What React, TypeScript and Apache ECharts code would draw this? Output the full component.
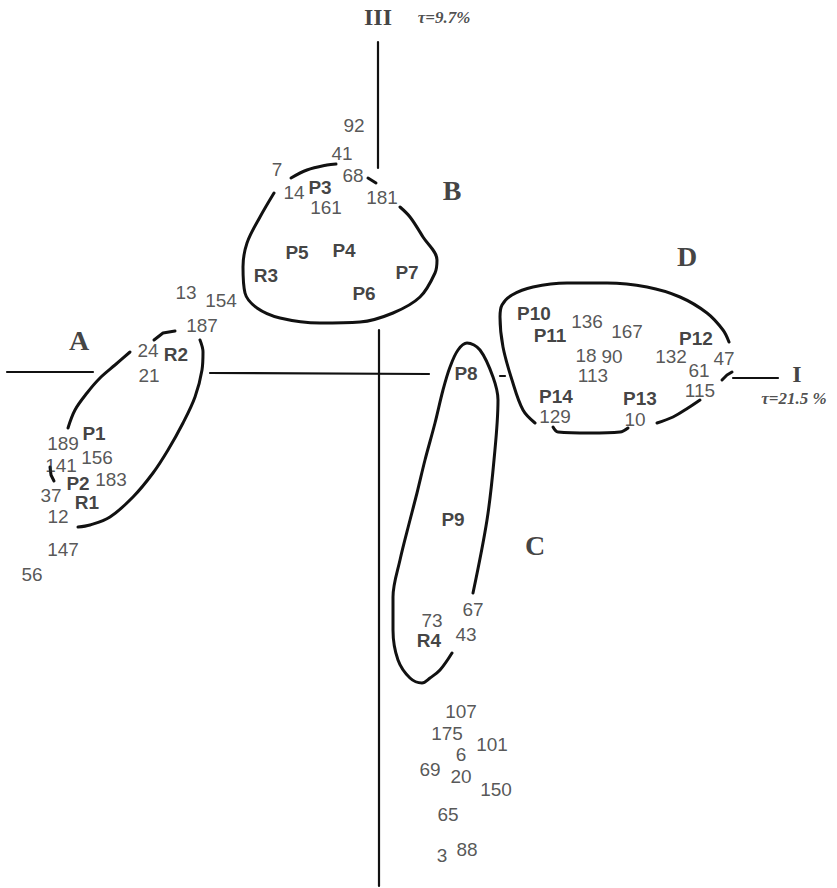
import React, { useEffect, useRef } from "react";
import * as echarts from "echarts";

// Factorial plane: axis I (horizontal) against axis III (vertical).
// Coordinates are factor scores in plot units.

type Pt = [number, number];

// Objects (numbered)
const objectNames: string[] = [
  "92", "41", "7", "68", "14", "181", "161",
  "13", "154", "187", "24", "21",
  "189", "141", "156", "183", "37", "12", "147", "56",
  "136", "167", "18", "90", "132", "47", "61", "113", "115", "129", "10",
  "67", "73", "43",
  "107", "175", "101", "6", "69", "20", "150", "65", "3", "88",
];
const objectX: number[] = [
  -0.24, -0.36, -1.01, -0.25, -0.84, 0.04, -0.52,
  -1.92, -1.57, -1.76, -2.3, -2.29,
  -3.15, -3.17, -2.81, -2.67, -3.27, -3.2, -3.15, -3.46,
  2.09, 2.49, 2.08, 2.34, 2.93, 3.46, 3.21, 2.15, 3.22, 1.77, 2.57,
  0.95, 0.54, 0.88,
  0.83, 0.69, 1.14, 0.83, 0.52, 0.83, 1.18, 0.7, 0.64, 0.89,
];
const objectY: number[] = [
  2.48, 2.2, 2.04, 1.98, 1.81, 1.76, 1.66,
  0.81, 0.73, 0.48, 0.23, -0.02,
  -0.7, -0.92, -0.84, -1.06, -1.22, -1.43, -1.76, -2.01,
  0.52, 0.42, 0.18, 0.17, 0.17, 0.15, 0.03, -0.02, -0.17, -0.43, -0.46,
  -2.36, -2.47, -2.61,
  -3.38, -3.6, -3.71, -3.81, -3.96, -4.03, -4.16, -4.41, -4.82, -4.76,
];

// Variables (P = populations, R = regions)
const variableNames: string[] = [
  "P1", "P2", "R1", "R2", "P3", "P4", "P5", "P6", "P7", "R3",
  "P8", "P9", "R4", "P10", "P11", "P12", "P13", "P14",
];
const variableX: number[] = [
  -2.84, -3.0, -2.91, -2.02, -0.58, -0.34, -0.81, -0.14, 0.29, -1.12,
  0.88, 0.75, 0.51, 1.56, 1.72, 3.18, 2.62, 1.78,
];
const variableY: number[] = [
  -0.6, -1.1, -1.29, 0.19, 1.86, 1.23, 1.21, 0.8, 1.01, 0.98,
  0.0, -1.46, -2.67, 0.6, 0.38, 0.35, -0.25, -0.23,
];

// Group letters
const groupNames: string[] = ["A", "B", "C", "D"];
const groupX: number[] = [-2.99, 0.74, 1.57, 3.09];
const groupY: number[] = [0.33, 1.83, -1.72, 1.17];

// Axis names and inertia
const axisNames: string[] = ["III", "I"];
const axisNameX: number[] = [0.0, 4.19];
const axisNameY: number[] = [3.56, -0.01];
const inertiaNames: string[] = ["τ=9.7%", "τ=21.5 %"];
const inertiaX: number[] = [0.66, 4.16];
const inertiaY: number[] = [3.56, -0.25];

// Axis segments (drawn broken around the groups)
const axisSegments: Pt[][] = [
  [[-3.71, 0.01], [-2.85, 0.01]],
  [[-1.68, 0.0], [0.51, -0.01]],
  [[3.55, -0.05], [4.0, -0.05]],
  [[0.0, 3.31], [0.0, 2.05]],
  [[0.01, 0.43], [0.01, -5.13]],
  [[1.22, -0.03], [1.27, -0.03]],
];

// Group outlines
const groupA: Pt[][] = [
  [[-3.1, -0.55], [-3.03, -0.37], [-2.91, -0.2], [-2.78, -0.05], [-2.63, 0.08], [-2.48, 0.21]],
  [[-2.24, 0.33], [-2.15, 0.4], [-2.03, 0.42]],
  [[-1.78, 0.33], [-1.75, 0.21], [-1.76, 0.03], [-1.83, -0.24], [-1.95, -0.5], [-2.1, -0.77],
   [-2.25, -1.0], [-2.45, -1.24], [-2.68, -1.44], [-2.88, -1.52], [-3.0, -1.54]],
  [[-3.28, -0.94], [-3.27, -1.02], [-3.24, -1.08]],
];
const groupB: Pt[][] = [
  [[-0.87, 1.95], [-0.71, 2.03], [-0.51, 2.08], [-0.42, 2.09]],
  [[-0.1, 1.95], [-0.02, 1.9]],
  [[-1.04, 1.8], [-1.18, 1.56], [-1.31, 1.3], [-1.35, 1.06], [-1.33, 0.8], [-1.21, 0.65],
   [-0.98, 0.55], [-0.58, 0.5], [-0.18, 0.51], [0.15, 0.6], [0.42, 0.76], [0.57, 1.0],
   [0.59, 1.13], [0.45, 1.36], [0.32, 1.56], [0.22, 1.66]],
];
const groupC: Pt[][] = [
  [[0.74, -2.8], [0.62, -2.97], [0.52, -3.05], [0.44, -3.1], [0.32, -3.05], [0.2, -2.87],
   [0.15, -2.57], [0.15, -2.24], [0.22, -1.87], [0.32, -1.47], [0.39, -1.2], [0.47, -0.87],
   [0.57, -0.5], [0.65, -0.17], [0.72, 0.06], [0.8, 0.23], [0.89, 0.3], [1.02, 0.23],
   [1.15, -0.04], [1.2, -0.27], [1.16, -0.87], [1.09, -1.47], [0.95, -2.2]],
];
const groupD: Pt[][] = [
  [[1.57, -0.5], [1.45, -0.37], [1.34, -0.07], [1.25, 0.26], [1.22, 0.56], [1.24, 0.68],
   [1.34, 0.78], [1.55, 0.86], [1.89, 0.9], [2.29, 0.9], [2.69, 0.86], [3.02, 0.76],
   [3.29, 0.6], [3.45, 0.43], [3.51, 0.31]],
  [[3.44, -0.07], [3.49, -0.02], [3.54, 0.01]],
  [[2.79, -0.5], [2.95, -0.44], [3.1, -0.35], [3.22, -0.27]],
  [[1.75, -0.54], [1.8, -0.59], [2.12, -0.6], [2.42, -0.59], [2.5, -0.55]],
];

const SANS = '"Liberation Sans", Arial, sans-serif';
const SERIF = '"Liberation Serif", "Times New Roman", serif';

function textSeries(
  id: string,
  names: string[],
  xs: number[],
  ys: number[],
  label: Record<string, unknown>
) {
  return {
    id,
    type: "scatter",
    symbol: "circle",
    symbolSize: 1,
    itemStyle: { color: "transparent" },
    silent: true,
    data: names.map((n, i) => ({ name: n, value: [xs[i], ys[i]] })),
    label: {
      show: true,
      position: "inside",
      formatter: "{b}",
      textBorderWidth: 0,
      textShadowBlur: 0,
      ...label,
    },
    z: 5,
  };
}

function curveSeries(id: string, arcs: Pt[][], width: number) {
  return arcs.map((pts, i) => ({
    id: `${id}-${i}`,
    type: "line",
    data: pts,
    smooth: pts.length > 3 ? 0.35 : false,
    showSymbol: false,
    symbol: "none",
    silent: true,
    lineStyle: { color: "#111", width, cap: "round", join: "round" },
    z: 3,
  }));
}

export default function App() {
  const ref = useRef<HTMLDivElement>(null);

  useEffect(() => {
    if (!ref.current) return;
    const chart = echarts.init(ref.current, undefined, { renderer: "svg" });

    const option = {
      animation: false,
      backgroundColor: "#ffffff",
      grid: { left: 0, right: 0, top: 0, bottom: 0, containLabel: false },
      xAxis: {
        type: "value",
        min: -3.78,
        max: 4.59,
        show: false,
      },
      yAxis: {
        type: "value",
        min: -5.15,
        max: 3.73,
        show: false,
      },
      series: [
        ...curveSeries("axis", axisSegments, 2.2),
        ...curveSeries("A", groupA, 3),
        ...curveSeries("B", groupB, 3),
        ...curveSeries("C", groupC, 3),
        ...curveSeries("D", groupD, 3),
        textSeries("objects", objectNames, objectX, objectY, {
          fontFamily: SANS,
          fontSize: 19,
          color: "#2b2b2b",
        }),
        textSeries("variables", variableNames, variableX, variableY, {
          fontFamily: SANS,
          fontSize: 19,
          fontWeight: "bold",
          color: "#111111",
        }),
        textSeries("groups", groupNames, groupX, groupY, {
          fontFamily: SERIF,
          fontSize: 28,
          fontWeight: "bold",
          color: "#111111",
        }),
        textSeries("axisNames", axisNames, axisNameX, axisNameY, {
          fontFamily: SERIF,
          fontSize: 24,
          fontWeight: "bold",
          color: "#111111",
        }),
        textSeries("inertia", inertiaNames, inertiaX, inertiaY, {
          fontFamily: SERIF,
          fontSize: 17,
          fontWeight: "bold",
          fontStyle: "italic",
          color: "#222222",
        }),
      ],
    };

    chart.setOption(option as any);
    return () => chart.dispose();
  }, []);

  return (
    <div
      ref={ref}
      style={{ position: "absolute", left: 0, top: 0, width: 837, height: 888, background: "#fff" }}
    />
  );
}
